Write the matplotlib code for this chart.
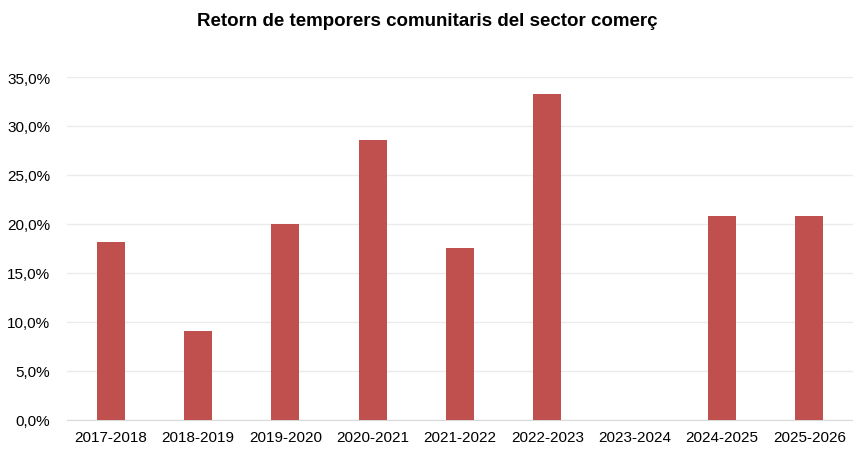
import matplotlib
matplotlib.use('Agg')
import matplotlib.pyplot as plt
from matplotlib.ticker import FuncFormatter, MultipleLocator

plt.rcParams['font.family'] = ['Liberation Sans', 'DejaVu Sans']

seasons = ['2017-2018', '2018-2019', '2019-2020', '2020-2021', '2021-2022',
           '2022-2023', '2023-2024', '2024-2025', '2025-2026']
returns = [18.2, 9.1, 20.0, 28.6, 17.6, 33.3, 0.0, 20.8, 20.8]

fig = plt.figure(figsize=(8.54, 4.52), dpi=100)
ax = fig.add_axes([67 / 854, 1 - 421 / 452, 786 / 854, 343 / 452])

x = range(len(seasons))
ax.bar(x, returns, width=0.317, color='#C0504D', zorder=3)

ax.set_xlim(-0.5, len(seasons) - 0.5)
ax.set_ylim(0, 35)
ax.yaxis.set_major_locator(MultipleLocator(5))
ax.yaxis.set_major_formatter(FuncFormatter(lambda v, p: f'{v:.1f}%'.replace('.', ',')))
ax.set_xticks(list(x))
ax.set_xticklabels(seasons)

ax.grid(axis='y', color='#EBEBEB', linewidth=1, zorder=0)
for s in ['top', 'right', 'left']:
    ax.spines[s].set_visible(False)
ax.spines['bottom'].set_color('#D9D9D9')
ax.tick_params(axis='both', length=0, labelsize=11, colors='#000000')
ax.tick_params(axis='y', pad=12)
ax.tick_params(axis='x', pad=7)

fig.text(0.5, 1 - 21 / 452, 'Retorn de temporers comunitaris del sector comerç',
         ha='center', va='center', fontsize=13.5, fontweight='bold')

fig.savefig('out.png', dpi=100)
